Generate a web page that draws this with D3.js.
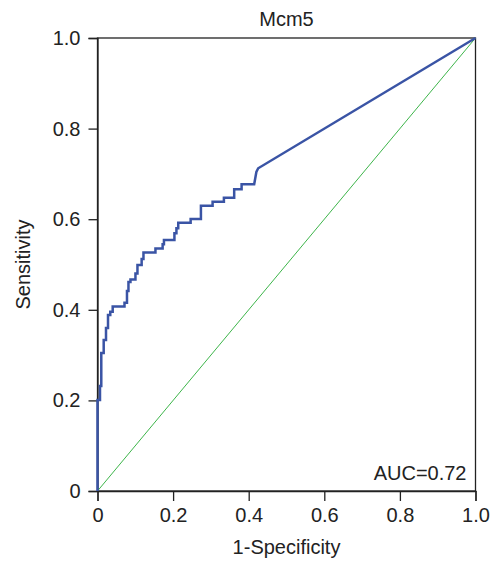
<!DOCTYPE html>
<html>
<head>
<meta charset="utf-8">
<script src="https://cdn.jsdelivr.net/npm/d3@7"></script>
<style>
  body { margin: 0; background: #fff; }
  svg { font-family: "Liberation Sans", Arial, sans-serif; }
</style>
</head>
<body>
<div id="chart"></div>
<script>
// ROC vertices (1-specificity, sensitivity)
var fpr = [0, 0, 0.0066, 0.0066, 0.0100, 0.0100, 0.0164, 0.0164, 0.0225, 0.0225,
  0.0278, 0.0278, 0.0338, 0.0338, 0.0402, 0.0402, 0.0714, 0.0714, 0.0780, 0.0780,
  0.0819, 0.0819, 0.0872, 0.0872, 0.1004, 0.1004, 0.1057, 0.1057, 0.1168, 0.1168,
  0.1216, 0.1216, 0.1533, 0.1533, 0.1723, 0.1723, 0.1758, 0.1758, 0.2035, 0.2035,
  0.2088, 0.2088, 0.2136, 0.2136, 0.2464, 0.2464, 0.2736, 0.2736, 0.3045, 0.3045,
  0.3344, 0.3344, 0.3616, 0.3616, 0.3812, 0.3812, 0.4145, 0.4203, 0.4251, 1];
var tpr = [0, 0.2009, 0.2009, 0.2318, 0.2318, 0.3046, 0.3046, 0.3333, 0.3333, 0.3598,
  0.3598, 0.3885, 0.3885, 0.3958, 0.3958, 0.4073, 0.4073, 0.4157, 0.4157, 0.4415,
  0.4415, 0.4614, 0.4614, 0.4669, 0.4669, 0.4801, 0.4801, 0.4989, 0.4989, 0.5121,
  0.5121, 0.5265, 0.5265, 0.5353, 0.5353, 0.5446, 0.5446, 0.5541, 0.5541, 0.5689,
  0.5689, 0.5799, 0.5799, 0.5923, 0.5923, 0.6004, 0.6004, 0.6298, 0.6298, 0.6386,
  0.6386, 0.6475, 0.6475, 0.6660, 0.6660, 0.6770, 0.6770, 0.7042, 0.7124, 1];
var ticks = [0, 0.2, 0.4, 0.6, 0.8, 1.0];
var title = "Mcm5";
var aucText = "AUC=0.72";

var width = 495, height = 569;
var margin = { top: 38, right: 19.5, bottom: 78, left: 97.5 };
var w = width - margin.left - margin.right,
    h = height - margin.top - margin.bottom;

var x = d3.scaleLinear().domain([0, 1]).range([0, w]);
var y = d3.scaleLinear().domain([0, 1]).range([h, 0]);

var svg = d3.select("#chart").append("svg")
  .attr("width", width)
  .attr("height", height);

var g = svg.append("g")
  .attr("transform", "translate(" + margin.left + "," + margin.top + ")");

var fmt = function (d) { return d === 0 ? "0" : d.toFixed(1); };

// frame
g.append("rect")
  .attr("x", 0).attr("y", 0)
  .attr("width", w).attr("height", h)
  .attr("fill", "none")
  .attr("stroke", "#222")
  .attr("stroke-width", 1.3);

var xAxis = g.append("g")
  .attr("transform", "translate(0," + h + ")")
  .call(d3.axisBottom(x).tickValues(ticks).tickFormat(fmt).tickSize(10).tickPadding(7));
var yAxis = g.append("g")
  .call(d3.axisLeft(y).tickValues(ticks).tickFormat(fmt).tickSize(9).tickPadding(8));

[xAxis, yAxis].forEach(function (a) {
  a.select(".domain").attr("stroke", "#222").attr("stroke-width", 1.3);
  a.selectAll(".tick line").attr("stroke", "#222").attr("stroke-width", 1.3);
  a.selectAll(".tick text")
    .attr("fill", "#222")
    .style("font-size", "20px")
    .style("font-family", "Liberation Sans, Arial, sans-serif");
});

// reference diagonal
g.append("line")
  .attr("x1", x(0)).attr("y1", y(0))
  .attr("x2", x(1)).attr("y2", y(1))
  .attr("stroke", "#3db54a")
  .attr("stroke-width", 1);

// ROC curve
var pts = fpr.map(function (d, i) { return [d, tpr[i]]; });
var line = d3.line()
  .x(function (d) { return x(d[0]); })
  .y(function (d) { return y(d[1]); });

g.append("path")
  .datum(pts)
  .attr("d", line)
  .attr("fill", "none")
  .attr("stroke", "#3a54a5")
  .attr("stroke-width", 2.5)
  .attr("stroke-linejoin", "miter");

// texts
svg.append("text")
  .attr("x", margin.left + w / 2)
  .attr("y", 26)
  .attr("text-anchor", "middle")
  .attr("fill", "#222")
  .style("font-size", "20px")
  .text(title);

g.append("text")
  .attr("x", w - 9)
  .attr("y", h - 11)
  .attr("text-anchor", "end")
  .attr("fill", "#222")
  .style("font-size", "20px")
  .text(aucText);

svg.append("text")
  .attr("x", margin.left + w / 2)
  .attr("y", 554)
  .attr("text-anchor", "middle")
  .attr("fill", "#222")
  .style("font-size", "20px")
  .text("1-Specificity");

svg.append("text")
  .attr("transform", "translate(30," + (margin.top + h / 2) + ") rotate(-90)")
  .attr("text-anchor", "middle")
  .attr("fill", "#222")
  .style("font-size", "20px")
  .text("Sensitivity");
</script>
</body>
</html>
